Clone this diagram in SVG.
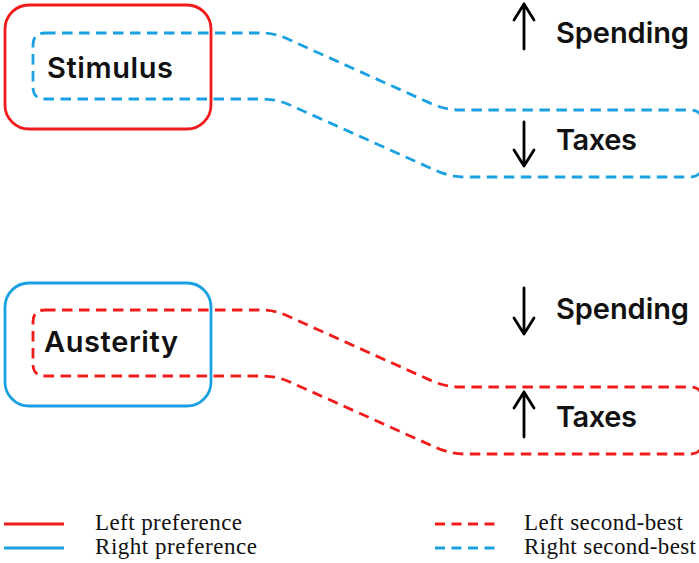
<svg xmlns="http://www.w3.org/2000/svg" width="699" height="563" viewBox="0 0 699 563">
<style>
.red{stroke:#f01c1c}
.blue{stroke:#1ba1e2}
.box{fill:none;stroke-width:2.8}
.dash{fill:none;stroke-width:2.8;stroke-dasharray:10.5 6.5}
.lbl{font-family:Inter,"Liberation Sans",sans-serif;font-weight:600;font-size:29px;fill:#111}
.arr{fill:none;stroke:#000;stroke-width:2.8;stroke-linecap:round;stroke-linejoin:round}
.leg{font-family:"Liberation Serif","DejaVu Serif",serif;font-size:23px;fill:#111}
</style>
<defs>
<path id="band" d="M 45,33 L 262,33 Q 276,33 290,40 L 432,104 Q 446,110 460,110 L 690,110 Q 702,110 702,122 L 702,165 Q 702,177 690,177 L 465,177 Q 451,177 437,171 L 290,105 Q 277,99 262,99 L 45,99 Q 33,99 33,87 L 33,45 Q 33,33 45,33 Z"/>
</defs>
<g id="connectors">
<use href="#band" class="dash blue"/>
<use href="#band" class="dash red" transform="translate(0,277)"/>
</g>
<g id="stimulus">
<rect x="5" y="5" width="206" height="124" rx="24" class="box red"/>
<text x="47" y="78" class="lbl" textLength="126">Stimulus</text>
</g>
<g id="austerity">
<rect x="5" y="283" width="206" height="123" rx="24" class="box blue"/>
<text x="44" y="352" class="lbl" textLength="134">Austerity</text>
</g>
<g id="spending-up">
<path d="M524,49 V4 M514,20 L524,4 L534,20" class="arr"/>
<text x="556" y="43" class="lbl" textLength="133">Spending</text>
</g>
<g id="taxes-down">
<path d="M524,122 V166 M514,150 L524,166 L534,150" class="arr"/>
<text x="556" y="150" class="lbl" textLength="81">Taxes</text>
</g>
<g id="spending-down">
<path d="M524,288 V334 M514,318 L524,334 L534,318" class="arr"/>
<text x="556" y="319" class="lbl" textLength="133">Spending</text>
</g>
<g id="taxes-up">
<path d="M524,437 V392 M514,408 L524,392 L534,408" class="arr"/>
<text x="556" y="427" class="lbl" textLength="81">Taxes</text>
</g>
<g id="legend">
<line x1="4" y1="524" x2="64" y2="524" class="box red"/>
<line x1="4" y1="548" x2="64" y2="548" class="box blue"/>
<line x1="435" y1="524" x2="495" y2="524" class="red" stroke-width="2.8" stroke-dasharray="10 6.5"/>
<line x1="435" y1="548" x2="495" y2="548" class="blue" stroke-width="2.8" stroke-dasharray="10 6.5"/>
<text x="95" y="530" class="leg" textLength="147">Left preference</text>
<text x="95" y="554" class="leg" textLength="162">Right preference</text>
<text x="524" y="530" class="leg" textLength="159">Left second-best</text>
<text x="524" y="554" class="leg" textLength="172">Right second-best</text>
</g>
</svg>
